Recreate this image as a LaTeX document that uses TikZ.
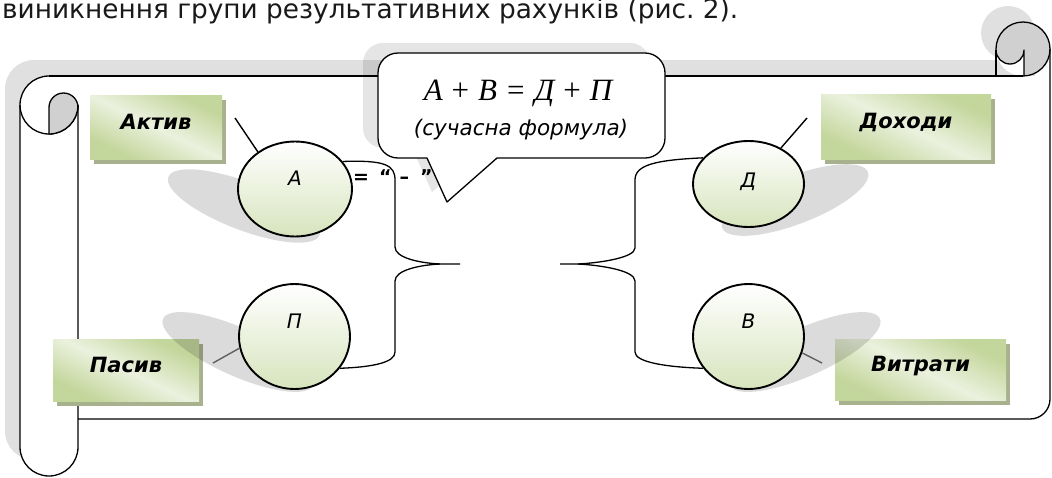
\documentclass[tikz,border=0pt]{standalone}
\usepackage{fontspec}
\usepackage{graphicx}
\setmainfont{DejaVu Sans}
\newfontfamily\tnrfont{Liberation Serif}
\usetikzlibrary{shapes.geometric,shadows}
\definecolor{rollgray}{HTML}{D0D0D0}
\definecolor{scrollshade}{HTML}{E0E0E0}
\definecolor{boxlight}{HTML}{EBF1DE}
\definecolor{boxgreen}{HTML}{C3D69B}
\definecolor{boxshadow}{HTML}{A8B18E}
\definecolor{ellgreen}{HTML}{D7E4BD}
\definecolor{lowline}{HTML}{606060}
\pgfdeclarehorizontalshading{boxshade}{100bp}{color(0bp)=(boxgreen); color(27bp)=(boxgreen); color(50bp)=(boxlight); color(73bp)=(boxgreen); color(100bp)=(boxgreen)}
\begin{document}
\begin{tikzpicture}[x=1pt,y=1pt,
  scrl/.style={line width=1.3pt, line join=round},
  brace/.style={line width=1.3pt, line join=round},
  conn/.style={line width=1.4pt, black},
  connlow/.style={line width=1.4pt, lowline},
  ellshade/.style={black, opacity=0.14},
  gbox/.style={shading=boxshade, shading angle=64, inner sep=0pt,
    text height=12pt, text depth=8pt,
    drop shadow={shadow xshift=4pt, shadow yshift=-5pt, fill=boxshadow, opacity=1},
    font=\bfseries\itshape\fontsize{21}{25}\selectfont},
  ell/.style={ellipse, draw, line width=1.9pt, top color=white, bottom color=ellgreen,
    inner sep=0pt, font=\itshape\fontsize{20}{24}\selectfont}]
\useasboundingbox (0,0) rectangle (1052,-477);
\clip (0,0) rectangle (1052,-477);

% top line of text
\node[anchor=base west, inner sep=0pt, text=black!90] (toptext) at (2,-18)
  {\resizebox{736pt}{!}{виникнення групи результативних рахунків (рис.~2).}};

% scroll shadow
\begin{scope}[shift={(-15,16)}]
  \fill[scrollshade] (78,-76) -- (1050,-76) -- (1050,-399) arc[start angle=0,end angle=-90,radius=20] -- (78,-419) -- cycle;
  \fill[scrollshade] (1023,-49) circle[radius=27];
  \fill[scrollshade] (49,-105) circle[radius=29];
  \fill[scrollshade] (49,-76) rectangle (78,-105);
  \fill[scrollshade] (20,-105) rectangle (78,-447);
  \fill[scrollshade] (49,-447) circle[radius=29];
\end{scope}
% scroll paper
\fill[white] (78,-76) -- (1050,-76) -- (1050,-399) arc[start angle=0,end angle=-90,radius=20] -- (78,-419) -- cycle;
\fill[white] (1023,-49) circle[radius=27];
\fill[white] (49,-105) circle[radius=29];
\fill[white] (49,-76) rectangle (78,-105);
\fill[white] (20,-105) rectangle (78,-447);
\fill[white] (49,-447) circle[radius=29];
% scroll outlines
\draw[scrl] (49,-76) arc[start angle=90,end angle=360,radius=29];
\filldraw[scrl, fill=rollgray] (49,-134) -- (49,-107.5) arc[start angle=180,end angle=0,radius=14.5]
  -- (78,-105) arc[start angle=0,end angle=-90,radius=29] -- cycle;
\draw[scrl] (20,-105) -- (20,-447) arc[start angle=180,end angle=360,radius=29] -- (78,-105);
\draw[scrl] (49,-76) -- (1023,-76);
\filldraw[scrl, fill=rollgray] (996,-49) arc[start angle=180,end angle=-90,radius=27]
  -- (1024,-76) -- (1024,-50) arc[start angle=0,end angle=-180,radius=14] -- cycle;
\draw[scrl] (996,-50) -- (996,-76);
\draw[scrl] (1050,-49) -- (1050,-399) arc[start angle=0,end angle=-90,radius=20] -- (78,-419);

% boxes
\node[gbox, minimum width=132pt, minimum height=64pt] (aktiv) at (156,-127) {Актив};
\node[gbox, minimum width=170pt, minimum height=65pt] (dohody) at (906,-126.5) {Доходи};
\node[gbox, minimum width=146pt, minimum height=62pt] (pasyv) at (126,-370) {Пасив};
\node[gbox, minimum width=171pt, minimum height=61pt] (vytraty) at (920.5,-369.5) {Витрати};

% ellipse shadows
\fill[ellshade, rotate around={-21:(244,-206)}] (244,-206) ellipse[x radius=81, y radius=24];
\fill[ellshade, rotate around={21:(795,-200)}] (795,-200) ellipse[x radius=78, y radius=24];
\fill[ellshade, rotate around={-24:(238,-352)}] (238,-352) ellipse[x radius=82, y radius=24];
\fill[ellshade, rotate around={24:(805,-352)}] (805,-352) ellipse[x radius=82, y radius=24];

% ellipses
\node[ell, minimum width=114pt, minimum height=95pt, text height=0pt, text depth=8pt] (A) at (295,-189) {А};
\node[ell, minimum width=111pt, minimum height=86pt, text height=6pt, text depth=0pt] (D) at (748.5,-184) {Д};
\node[ell, minimum width=111pt, minimum height=105pt, text height=0pt, text depth=17pt] (P) at (294.5,-336.5) {П};
\node[ell, minimum width=111pt, minimum height=105pt, text height=0pt, text depth=17pt] (V) at (748.5,-336.5) {В};

% connectors
\coordinate (aktivend) at (235,-118);
\coordinate (dohodyend) at (807,-118);
\coordinate (pasyvend) at (213,-363);
\coordinate (vytratyend) at (822,-363);
\draw[conn] (aktivend) -- (A.135);
\draw[conn] (dohodyend) -- (D.48);
\draw[connlow] (pasyvend) -- (P.192);
\draw[connlow] (vytratyend) -- (V.-17);

% braces
\coordinate (ltip) at (440,-264);
\coordinate (ltick) at (460,-264);
\coordinate (rtip) at (578,-264);
\coordinate (rtick) at (560,-264);
\draw[brace] (A.30) .. controls (385,-160) and (395,-165) .. (395,-180) -- (395,-247)
  .. controls (395,-258) and (420,-263) .. (ltip) -- (ltick);
\draw[brace] (ltip) .. controls (420,-265) and (395,-270) .. (395,-281) -- (395,-352)
  .. controls (395,-362) and (375,-367) .. (P.-35);
\draw[brace] (D.150) .. controls (655,-160) and (635,-165) .. (635,-180) -- (635,-248)
  .. controls (635,-258) and (598,-263) .. (rtip) -- (rtick);
\draw[brace] (rtip) .. controls (598,-265) and (635,-270) .. (635,-281) -- (635,-352)
  .. controls (635,-362) and (665,-367) .. (V.215);

% equals text
\node[anchor=base west, inner sep=0pt, font=\bfseries\fontsize{19}{22}\selectfont] (eqtext) at (353,-183)
  {=\hspace{10pt}“\hspace{8pt}–\hspace{11pt}”};

% callout shadow and callout
\fill[black, opacity=0.1, shift={(-15,10)}] (398,-53) -- (645,-53) arc[start angle=90,end angle=0,radius=20]
  -- (665,-138) arc[start angle=0,end angle=-90,radius=20] -- (497,-158) -- (447,-202) -- (427,-158)
  -- (398,-158) arc[start angle=270,end angle=180,radius=20] -- (378,-73) arc[start angle=180,end angle=90,radius=20] -- cycle;
\filldraw[scrl, fill=white] (398,-53) -- (645,-53) arc[start angle=90,end angle=0,radius=20]
  -- (665,-138) arc[start angle=0,end angle=-90,radius=20] -- (497,-158) -- (447,-202) -- (427,-158)
  -- (398,-158) arc[start angle=270,end angle=180,radius=20] -- (378,-73) arc[start angle=180,end angle=90,radius=20] -- cycle;
\node[anchor=base, inner sep=0pt, font=\tnrfont\fontsize{31}{34}\selectfont] (formula) at (518,-100)
  {\itshape А\hspace{9pt}{\upshape+}\hspace{9pt}В\hspace{10pt}{\upshape=}\hspace{10pt}Д\hspace{9pt}{\upshape+}\hspace{9pt}П};
\node[anchor=base, inner sep=0pt, font=\itshape\fontsize{21.5}{25}\selectfont] (subtitle) at (521,-135) {(сучасна формула)};
\end{tikzpicture}
\end{document}
